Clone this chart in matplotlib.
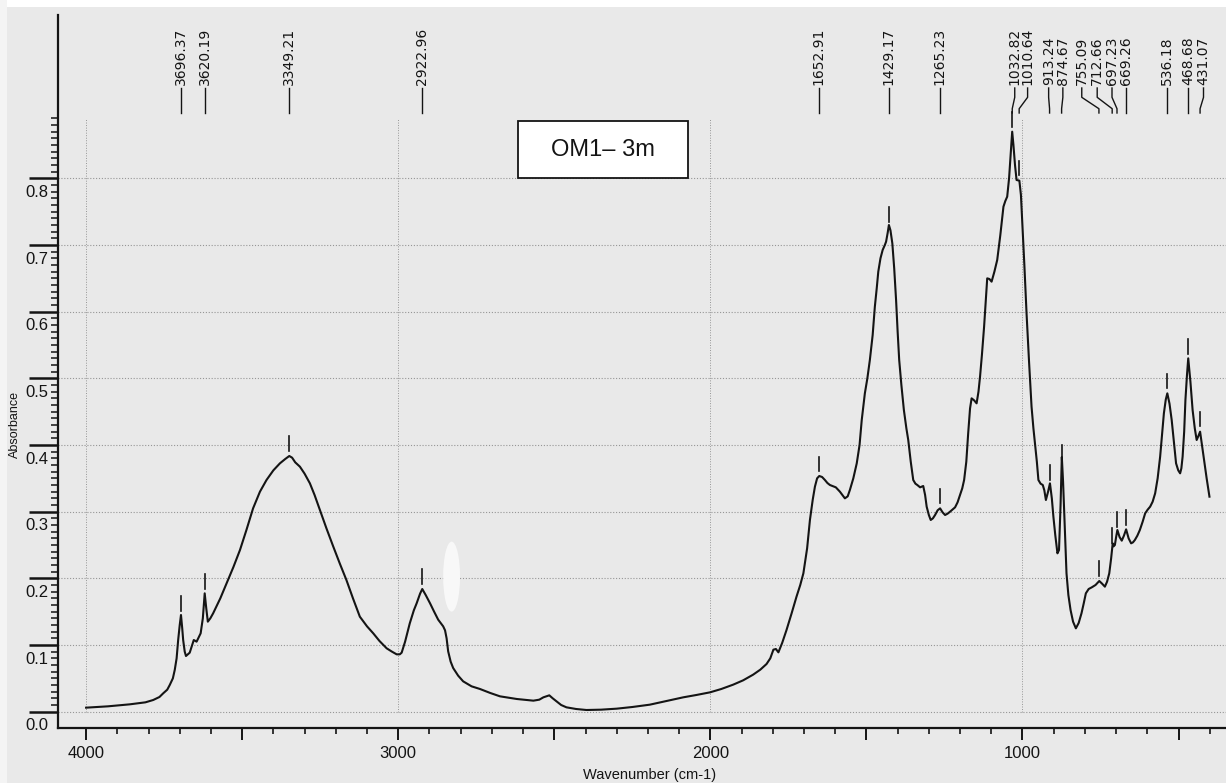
import numpy as np
import matplotlib
matplotlib.use("Agg")
import matplotlib.pyplot as plt
from matplotlib import font_manager
from matplotlib.transforms import ScaledTranslation, blended_transform_factory
from matplotlib.patches import Rectangle, Ellipse
from matplotlib.ticker import FixedLocator

# ---------------- data ----------------
wavenumber = [4000, 3930, 3860, 3810, 3785, 3765, 3753, 3740, 3732, 3722, 3716, 3710, 3705, 3700,
              3696, 3692, 3689, 3684, 3680, 3668, 3655, 3646, 3633, 3626, 3620, 3615, 3610, 3602,
              3593, 3570, 3550, 3528, 3507, 3486, 3465, 3443, 3422, 3400, 3379, 3362, 3349, 3340,
              3330, 3315, 3300, 3283, 3268, 3251, 3230, 3208, 3187, 3166, 3145, 3123, 3100, 3080,
              3060, 3037, 3020, 3005, 2995, 2989, 2978, 2963, 2950, 2941, 2930, 2923, 2912, 2898,
              2885, 2872, 2856, 2850, 2845, 2840, 2832, 2824, 2808, 2792, 2765, 2738, 2705, 2674,
              2620, 2567, 2548, 2535, 2516, 2505, 2493, 2478, 2461, 2430, 2397, 2350, 2300, 2250,
              2194, 2140, 2087, 2045, 2001, 1965, 1927, 1895, 1863, 1840, 1820, 1808, 1798, 1790,
              1782, 1770, 1756, 1740, 1724, 1712, 1702, 1690, 1681, 1672, 1665, 1658, 1651, 1642,
              1633, 1625, 1617, 1598, 1585, 1569, 1560, 1553, 1542, 1531, 1522, 1515, 1505, 1497,
              1489, 1480, 1473, 1467, 1462, 1455, 1448, 1441, 1437, 1432, 1428, 1423, 1417, 1411,
              1405, 1400, 1395, 1388, 1380, 1372, 1366, 1358, 1350, 1343, 1337, 1328, 1318, 1312,
              1307, 1300, 1294, 1287, 1280, 1272, 1264, 1256, 1248, 1240, 1232, 1216, 1208, 1200,
              1193, 1187, 1180, 1174, 1168, 1163, 1155, 1147, 1141, 1136, 1130, 1123, 1118, 1113,
              1106, 1099, 1090, 1081, 1071, 1061, 1055, 1049, 1043, 1038, 1033, 1029, 1024, 1019,
              1014, 1010, 1005, 1000, 994, 987, 979, 971, 965, 960, 954, 949, 942, 935, 930, 925,
              918, 912, 906, 901, 895, 888, 883, 878, 874, 870, 867, 863, 859, 853, 846, 838, 829,
              820, 811, 804, 797, 788, 778, 766, 760, 754, 745, 736, 729, 722, 716, 711, 708, 704,
              700, 696, 689, 682, 675, 668, 660, 652, 646, 640, 632, 624, 615, 607, 599, 591, 583,
              575, 567, 559, 553, 547, 541, 536, 529, 522, 515, 508, 501, 495, 491, 487, 482, 478,
              473, 469, 462, 455, 448, 442, 436, 431, 425, 418, 410, 401]
absorbance = [0.006, 0.008, 0.011, 0.014, 0.0175, 0.022, 0.0275, 0.033, 0.040, 0.050, 0.0625,
              0.080, 0.1075, 0.130, 0.145, 0.125, 0.1075, 0.090, 0.0835, 0.0885, 0.1075, 0.105,
              0.1175, 0.140, 0.1775, 0.155, 0.135, 0.140, 0.1475, 0.170, 0.1925, 0.217, 0.2425,
              0.273, 0.305, 0.330, 0.3475, 0.362, 0.3725, 0.379, 0.3835, 0.381, 0.374, 0.3675,
              0.357, 0.3425, 0.325, 0.3025, 0.275, 0.2475, 0.222, 0.1975, 0.170, 0.1425, 0.128,
              0.1175, 0.106, 0.095, 0.090, 0.086, 0.086, 0.0885, 0.105, 0.1325, 0.152, 0.1625,
              0.177, 0.184, 0.175, 0.1625, 0.150, 0.138, 0.128, 0.122, 0.110, 0.0905, 0.075,
              0.0655, 0.054, 0.0455, 0.038, 0.034, 0.028, 0.023, 0.019, 0.0165, 0.018, 0.0215,
              0.0245, 0.020, 0.0155, 0.010, 0.0065, 0.004, 0.0025, 0.003, 0.0045, 0.007, 0.0105,
              0.016, 0.0215, 0.025, 0.029, 0.034, 0.0405, 0.047, 0.0555, 0.063, 0.0715, 0.080,
              0.093, 0.094, 0.089, 0.103, 0.1225, 0.147, 0.1725, 0.190, 0.2075, 0.245, 0.2875,
              0.318, 0.3375, 0.350, 0.3535, 0.352, 0.3475, 0.343, 0.340, 0.3365, 0.330, 0.320,
              0.323, 0.3325, 0.350, 0.3725, 0.400, 0.4375, 0.4775, 0.500, 0.5275, 0.565, 0.6075,
              0.635, 0.660, 0.680, 0.6925, 0.700, 0.705, 0.718, 0.730, 0.722, 0.7025, 0.665,
              0.6175, 0.570, 0.5275, 0.490, 0.4525, 0.425, 0.4075, 0.375, 0.3475, 0.342, 0.340,
              0.3365, 0.3385, 0.325, 0.3075, 0.295, 0.2875, 0.290, 0.295, 0.302, 0.305, 0.299,
              0.295, 0.297, 0.300, 0.3065, 0.314, 0.325, 0.335, 0.3475, 0.375, 0.4175, 0.455,
              0.470, 0.467, 0.4625, 0.480, 0.5025, 0.535, 0.5775, 0.615, 0.650, 0.649, 0.645,
              0.660, 0.6775, 0.715, 0.7575, 0.766, 0.7725, 0.800, 0.835, 0.870, 0.850, 0.820,
              0.7975, 0.797, 0.7965, 0.775, 0.7275, 0.670, 0.5975, 0.525, 0.4575, 0.425, 0.4025,
              0.375, 0.3475, 0.342, 0.340, 0.332, 0.3175, 0.330, 0.3425, 0.320, 0.2925, 0.265,
              0.2375, 0.2425, 0.310, 0.382, 0.345, 0.3075, 0.255, 0.2075, 0.175, 0.1525, 0.135,
              0.125, 0.133, 0.1475, 0.162, 0.1775, 0.184, 0.1865, 0.190, 0.193, 0.196, 0.192,
              0.1875, 0.195, 0.2075, 0.230, 0.2525, 0.248, 0.250, 0.262, 0.2725, 0.262, 0.2565,
              0.264, 0.2735, 0.260, 0.2525, 0.254, 0.2575, 0.264, 0.2725, 0.285, 0.2975, 0.303,
              0.3075, 0.315, 0.3275, 0.350, 0.3825, 0.415, 0.4475, 0.468, 0.4775, 0.462, 0.4375,
              0.405, 0.3725, 0.362, 0.3575, 0.365, 0.3825, 0.420, 0.4675, 0.505, 0.530, 0.495,
              0.4525, 0.425, 0.4075, 0.414, 0.420, 0.400, 0.3775, 0.350, 0.3225]

peak_positions = [3696.37, 3620.19, 3349.21, 2922.96, 1652.91, 1429.17, 1265.23, 1032.82,
                  1010.64, 913.24, 874.67, 755.09, 712.66, 697.23, 669.26, 536.18, 468.68, 431.07]
x_tick_values = [4000, 3000, 2000, 1000]
y_tick_values = [0.0, 0.1, 0.2, 0.3, 0.4, 0.5, 0.6, 0.7, 0.8]
x_title = "Wavenumber (cm-1)"
y_title = "Absorbance"
sample_name = "OM1\u2013 3m"

# ---------------- layout / style ----------------
label_shift = {1032.82: -8, 1010.64: -27, 913.24: 3, 874.67: -4, 755.09: 55, 712.66: 48,
               697.23: 16, 431.07: -11}


def pick_font(names, default):
    for n in names:
        try:
            font_manager.findfont(font_manager.FontProperties(family=n), fallback_to_default=False)
            return n
        except Exception:
            pass
    return default


narrow = pick_font(["Liberation Sans Narrow"], "Liberation Sans")

W, H = 1226, 783
BG = "#e9e9e9"
INK = "#141414"
GRID = "#969696"

fig = plt.figure(figsize=(W / 100, H / 100), dpi=100, facecolor=BG)


def fx(px):
    return px / W


def fy(py):
    return 1 - py / H


ax = fig.add_axes([fx(58), fy(728), fx(1226) - fx(58), fy(15) - fy(728)])
ax.set_facecolor("none")
ax.set_xlim(4090, 348)
ax.set_ylim(-0.0245, 1.045)

# grid
for v in y_tick_values:
    ax.plot([4090, 348], [v, v], color=GRID, lw=0.8, ls=(0, (1, 1.6)), zorder=1)
for v in x_tick_values:
    ax.plot([v, v], [0.0, 0.89], color=GRID, lw=0.7, ls=(0, (1, 1.6)), zorder=1)

# spectrum
ax.plot(wavenumber, absorbance, color=INK, lw=1.5, zorder=5, solid_joinstyle="round")

# spines
for s in ("top", "right"):
    ax.spines[s].set_visible(False)
for s in ("left", "bottom"):
    ax.spines[s].set_linewidth(1.6)
    ax.spines[s].set_color(INK)

# x ticks
xmaj = list(range(4000, 399, -500))
ax.xaxis.set_major_locator(FixedLocator(xmaj))
ax.set_xticklabels([str(v) if v in x_tick_values else "" for v in xmaj],
                   fontfamily=narrow, fontsize=12, color=INK)
ax.xaxis.set_minor_locator(FixedLocator(list(range(4000, 399, -100))))
ax.tick_params(axis="x", which="major", direction="out", length=8.5, width=1.4, pad=4.5, color=INK)
ax.tick_params(axis="x", which="minor", direction="out", length=4.5, width=1.2, color=INK)

# y ticks
ax.yaxis.set_major_locator(FixedLocator(y_tick_values))
ax.yaxis.set_minor_locator(FixedLocator([i / 100 for i in range(0, 90)]))
ax.tick_params(axis="y", which="major", direction="out", length=21, width=1.8, color=INK,
               labelleft=False)
ax.tick_params(axis="y", which="minor", direction="out", length=5, width=1.1, color=INK)
ytr = ax.get_yaxis_transform() + ScaledTranslation(-0.10, -0.14, fig.dpi_scale_trans)
for v in y_tick_values:
    ax.text(0, v, f"{v:.1f}", transform=ytr, ha="right", va="center",
            fontsize=12, family=narrow, color=INK)

# axis titles
fig.text(fx(650), fy(775), x_title, ha="center", va="center", fontsize=10.5,
         family="Liberation Sans", color=INK)
fig.text(fx(15), fy(425), y_title, ha="center", va="center", rotation=90, fontsize=9,
         family="Liberation Sans", color=INK)

# peak markers and labels
wn_asc = np.array(wavenumber[::-1], dtype=float)
ab_asc = np.array(absorbance[::-1], dtype=float)
ptr = blended_transform_factory(ax.transData, ax.transAxes)


def afrac(py):
    return (728 - py) / 713


yb, yt = afrac(113), afrac(88)
for p in peak_positions:
    a = float(np.interp(p, wn_asc, ab_asc))
    ax.plot([p, p], [a + 0.008, a + 0.03], color=INK, lw=1.2, zorder=6)
    xl = p + label_shift.get(p, 0)
    ax.plot([p, p, xl, xl], [yb, yb + 0.006, yb + 0.022, yt], transform=ptr,
            color=INK, lw=1.0, clip_on=False, zorder=6)
    ax.text(xl, yt + 0.004, f"{p:.2f}", rotation=90, ha="center", va="bottom",
            transform=ptr, fontsize=10, family="DejaVu Sans", color=INK, clip_on=False)

# scan artefact (white blotch)
ax.add_patch(Ellipse((2829, 0.2026), 54, 0.105, facecolor="#f8f8f8", edgecolor="none", zorder=4))

# sample name box
fig.add_artist(Rectangle((fx(518), fy(178)), fx(688) - fx(518), fy(121) - fy(178),
                         transform=fig.transFigure, facecolor="white", edgecolor=INK,
                         lw=1.3, zorder=10))
fig.text(fx(603), fy(149.5), sample_name, ha="center", va="center", fontsize=17,
         family="Liberation Sans", color=INK, zorder=11)

# paper edge strips
fig.add_artist(Rectangle((0, fy(7)), 1, 7 / H, transform=fig.transFigure,
                         facecolor="white", edgecolor="none", zorder=0))
fig.add_artist(Rectangle((0, 0), 7 / W, 1, transform=fig.transFigure,
                         facecolor="#f4f4f4", edgecolor="none", zorder=0))

fig.savefig("out.png", dpi=100, facecolor=BG)
